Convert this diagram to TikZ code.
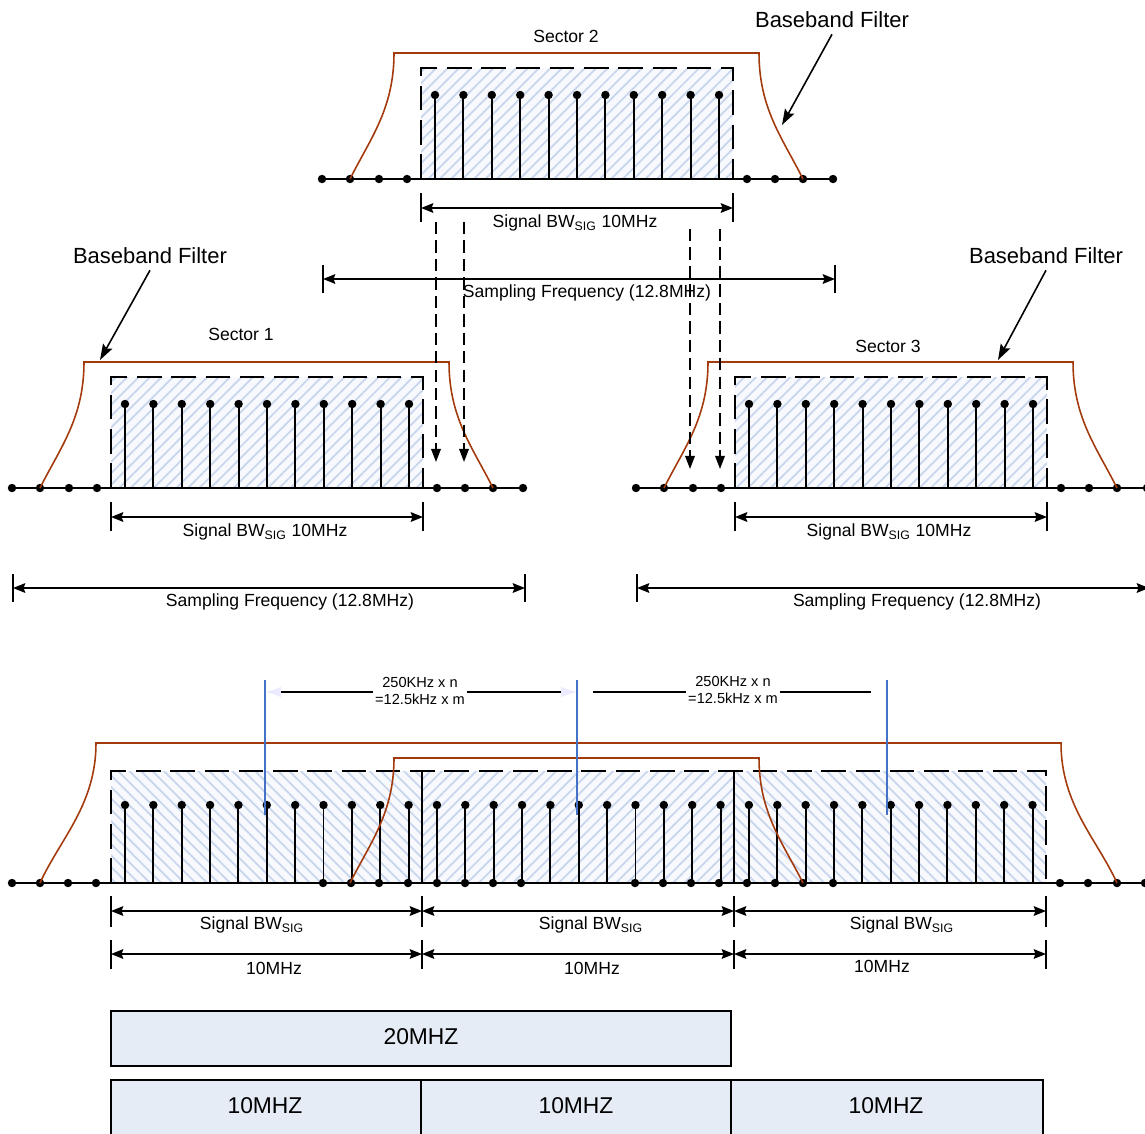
\documentclass[tikz,border=0pt]{standalone}
\usepackage{fontspec}
\setmainfont{Liberation Sans}
\usetikzlibrary{arrows.meta,patterns.meta,calc}
\usepackage{xcolor}
\definecolor{filterbrown}{RGB}{163,58,12}
\definecolor{hatchblue}{RGB}{200,213,237}
\definecolor{hatchbg}{RGB}{247,249,253}
\definecolor{markerblue}{RGB}{68,114,196}
\definecolor{boxblue}{RGB}{230,236,246}

\begin{document}
\begin{tikzpicture}[x=0.02cm, y=-0.02cm,
    axisline/.style={line width=1.1pt},
    band/.style={line width=1.1pt, dash pattern=on 14pt off 5.5pt},
    hatchup/.style={preaction={fill=hatchbg}, pattern={Lines[angle=45,distance=4.6pt,line width=1pt]}, pattern color=hatchblue},
    hatchdown/.style={preaction={fill=hatchbg}, pattern={Lines[angle=-45,distance=4.6pt,line width=1pt]}, pattern color=hatchblue},
    filt/.style={filterbrown, line width=0.9pt},
    dimarrow/.style={line width=0.9pt, {Stealth[length=7pt,width=5.5pt,inset=1pt]}-{Stealth[length=7pt,width=5.5pt,inset=1pt]}},
    dimtick/.style={line width=0.9pt},
    aliasarrow/.style={line width=0.9pt, dash pattern=on 7pt off 3.5pt, -{Triangle[length=7.5pt,width=5.5pt]}},
    pointer/.style={line width=0.9pt, -{Stealth[length=9pt,width=6pt,inset=1.5pt]}},
    bluemark/.style={markerblue, line width=0.8pt},
    lbl/.style={font=\fontsize{10}{12}\selectfont},
    bigbl/.style={font=\fontsize{12.5}{14}\selectfont},
    boxlbl/.style={font=\fontsize{13}{15}\selectfont},
    smalllbl/.style={font=\fontsize{8.3}{9.3}\selectfont, align=center, fill=white, inner sep=1pt}
]
\useasboundingbox (0,0) rectangle (1145,1133);

% three single sectors: rect left edge / axis height / sampling label offset
\foreach \L/\Y/\s in {421/179/166, 111/488/179, 735/488/182} {
  % band
  \fill[hatchup] (\L,\Y) rectangle ({\L+312},{\Y-111});
  \draw[band] (\L,\Y) -- (\L,{\Y-111}) -- ({\L+312},{\Y-111}) -- ({\L+312},\Y);
  % axis
  \draw[axisline] ({\L-99},\Y) -- ({\L+412},\Y);
  % stems
  \foreach \i in {0,...,10} {
    \draw[axisline] ({\L+14+28.4*\i},\Y) -- ({\L+14+28.4*\i},{\Y-84});
    \fill ({\L+14+28.4*\i},{\Y-84}) circle (2.4pt);
  }
  \foreach \d in {-99,-71,-42,-14,326,354,382,412}
    \fill ({\L+\d},\Y) circle (2.4pt);
  % baseband filter
  \draw[filt] ({\L-71},\Y) .. controls ({\L-51},{\Y-40}) and ({\L-27},{\Y-70}) .. ({\L-27},{\Y-126})
    -- ({\L+338},{\Y-126}) .. controls ({\L+338},{\Y-70}) and ({\L+362},{\Y-40}) .. ({\L+382},\Y);
  % signal bandwidth
  \coordinate (sl\L) at (\L,{\Y+29});
  \coordinate (sr\L) at ({\L+312},{\Y+29});
  \draw[dimtick] (\L,{\Y+14}) -- (\L,{\Y+43}) ({\L+312},{\Y+14}) -- ({\L+312},{\Y+43});
  \draw[dimarrow] (sl\L) -- (sr\L);
  \node[lbl] (sig\L) at ({\L+154},{\Y+44}) {Signal BW\textsubscript{SIG} 10MHz};
  % sampling frequency
  \coordinate (fl\L) at ({\L-98},{\Y+100});
  \coordinate (fr\L) at ({\L+414},{\Y+100});
  \draw[dimtick] ({\L-98},{\Y+86}) -- ({\L-98},{\Y+114}) ({\L+414},{\Y+86}) -- ({\L+414},{\Y+114});
  \draw[dimarrow] (fl\L) -- (fr\L);
  \node[lbl] (fs\L) at ({\L+\s},{\Y+114}) {Sampling Frequency (12.8MHz)};
}

% sector names
\node[lbl] (sec2) at (566,36) {Sector 2};
\node[lbl] (sec1) at (241,334) {Sector 1};
\node[lbl] (sec3) at (888,346) {Sector 3};

% baseband filter callouts
\node[bigbl] (bf2) at (832,20) {Baseband Filter};
\node[bigbl] (bf1) at (150,256) {Baseband Filter};
\node[bigbl] (bf3) at (1046,256) {Baseband Filter};
\coordinate (bf2tip) at (782,125);
\coordinate (bf1tip) at (100,360);
\coordinate (bf3tip) at (998,360);
\draw[pointer] (bf2.south) -- (bf2tip);
\draw[pointer] (bf1.south) -- (bf1tip);
\draw[pointer] (bf3.south) -- (bf3tip);

% aliased samples folding down
\coordinate (a1) at (436,222); \coordinate (a1e) at (436,462);
\coordinate (a2) at (464,222); \coordinate (a2e) at (464,462);
\coordinate (a3) at (690,229); \coordinate (a3e) at (690,469);
\coordinate (a4) at (720,229); \coordinate (a4e) at (720,469);
\draw[aliasarrow] (a1) -- (a1e);
\draw[aliasarrow] (a2) -- (a2e);
\draw[aliasarrow] (a3) -- (a3e);
\draw[aliasarrow] (a4) -- (a4e);

% combined spectrum
\fill[hatchdown] (111,883) rectangle (422,771);
\fill[hatchup] (422,883) rectangle (734,771);
\fill[hatchdown] (734,883) rectangle (1046,771);
\draw[band] (111,883) -- (111,771) -- (1046,771) -- (1046,883);
\draw[axisline] (422,771) -- (422,883) (734,771) -- (734,883);
\draw[axisline] (12,883) -- (1145,883);
\foreach \i in {0,...,32} {
  \draw[axisline] ({125+28.36*\i},883) -- ({125+28.36*\i},805);
  \fill ({125+28.36*\i},805) circle (2.4pt);
}
\foreach \x in {12,40,68,96,323,351,379,408,437,465,493,521,635,663,691,719,747,775,803,833,1060,1088,1117,1145}
  \fill (\x,883) circle (2.4pt);
\draw[filt] (40,883) .. controls (60,839) and (96,805) .. (96,743) -- (1061,743)
  .. controls (1061,805) and (1097,839) .. (1117,883);
\draw[filt] (350,883) .. controls (370,843) and (394,813) .. (394,758) -- (759,758)
  .. controls (759,813) and (783,843) .. (803,883);

% centre markers
\coordinate (m1) at (265,680); \coordinate (m1b) at (265,815);
\coordinate (m2) at (577,680); \coordinate (m2b) at (577,815);
\coordinate (m3) at (887,680); \coordinate (m3b) at (887,815);
\draw[bluemark] (m1) -- (m1b);
\draw[bluemark] (m2) -- (m2b);
\draw[bluemark] (m3) -- (m3b);
\coordinate (g1) at (265,692); \coordinate (g2) at (577,692); \coordinate (g3) at (887,692);
\draw[line width=0.9pt, {Latex[length=9pt,width=6pt,color=blue!8]}-{Latex[length=9pt,width=6pt,color=blue!8]}] (g1) -- (g2);
\draw[line width=0.9pt, shorten <=9pt, shorten >=9pt] (g2) -- (g3);
\node[smalllbl] (sp1) at (420,691) {250KHz x n\\=12.5kHz x m};
\node[smalllbl] (sp2) at (733,690) {250KHz x n\\=12.5kHz x m};

% bottom dimensions
\foreach \x in {111,422,734,1046}
  \draw[dimtick] (\x,896) -- (\x,927) (\x,940) -- (\x,969);
\coordinate (d0) at (111,911); \coordinate (d1) at (422,911);
\coordinate (d2) at (734,911); \coordinate (d3) at (1046,911);
\coordinate (e0) at (111,954); \coordinate (e1) at (422,954);
\coordinate (e2) at (734,954); \coordinate (e3) at (1046,954);
\draw[dimarrow] (d0) -- (d1);
\draw[dimarrow] (d1) -- (d2);
\draw[dimarrow] (d2) -- (d3);
\draw[dimarrow] (e0) -- (e1);
\draw[dimarrow] (e1) -- (e2);
\draw[dimarrow] (e2) -- (e3);
\node[lbl] (bw1) at (252,925) {Signal BW\textsubscript{SIG}};
\node[lbl] (bw2) at (591,925) {Signal BW\textsubscript{SIG}};
\node[lbl] (bw3) at (902,925) {Signal BW\textsubscript{SIG}};
\node[lbl] (mh1) at (274,968) {10MHz};
\node[lbl] (mh2) at (592,968) {10MHz};
\node[lbl] (mh3) at (882,966) {10MHz};

% channel boxes
\draw[line width=1.1pt, fill=boxblue] (111,1011) rectangle (731,1066);
\draw[line width=1.1pt, fill=boxblue] (111,1080) rectangle (421,1140);
\draw[line width=1.1pt, fill=boxblue] (421,1080) rectangle (731,1140);
\draw[line width=1.1pt, fill=boxblue] (731,1080) rectangle (1043,1140);
\node[boxlbl] (c20) at (421,1037) {20MHZ};
\node[boxlbl] (c10a) at (265,1106) {10MHZ};
\node[boxlbl] (c10b) at (576,1106) {10MHZ};
\node[boxlbl] (c10c) at (886,1106) {10MHZ};
\end{tikzpicture}
\end{document}
